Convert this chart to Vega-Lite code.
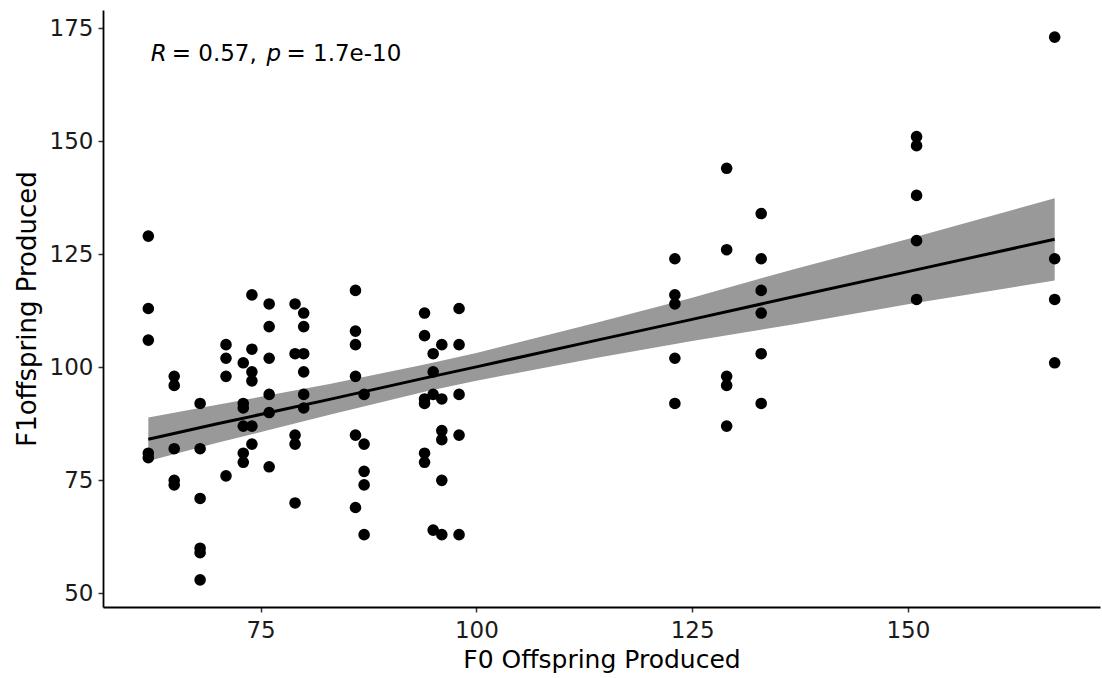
{
  "$schema": "https://vega.github.io/schema/vega-lite/v6.json",
  "width": 997,
  "height": 597,
  "autosize": {"type": "none"},
  "padding": {"left": 103, "top": 10, "right": 2, "bottom": 71},
  "background": "white",
  "config": {
    "view": {"stroke": null},
    "font": "DejaVu Sans",
    "axis": {
      "grid": false,
      "domainColor": "#000000",
      "domainWidth": 1.8,
      "tickColor": "#333333",
      "tickWidth": 1.5,
      "tickSize": 5,
      "labelFont": "DejaVu Sans",
      "labelFontSize": 23,
      "labelColor": "#1a1a1a",
      "titleFont": "DejaVu Sans",
      "titleFontSize": 25,
      "titleFontWeight": "normal",
      "titleColor": "#000000"
    }
  },
  "datasets": {
    "points": [
      {"f0": 62, "f1": 129}, {"f0": 62, "f1": 113}, {"f0": 62, "f1": 106}, {"f0": 62, "f1": 81}, {"f0": 62, "f1": 80},
      {"f0": 65, "f1": 98}, {"f0": 65, "f1": 96}, {"f0": 65, "f1": 82}, {"f0": 65, "f1": 75}, {"f0": 65, "f1": 74},
      {"f0": 68, "f1": 92}, {"f0": 68, "f1": 82}, {"f0": 68, "f1": 71}, {"f0": 68, "f1": 60}, {"f0": 68, "f1": 59}, {"f0": 68, "f1": 53},
      {"f0": 71, "f1": 105}, {"f0": 71, "f1": 102}, {"f0": 71, "f1": 98}, {"f0": 71, "f1": 76},
      {"f0": 73, "f1": 101}, {"f0": 73, "f1": 92}, {"f0": 73, "f1": 91}, {"f0": 73, "f1": 87}, {"f0": 73, "f1": 81}, {"f0": 73, "f1": 79},
      {"f0": 74, "f1": 116}, {"f0": 74, "f1": 104}, {"f0": 74, "f1": 99}, {"f0": 74, "f1": 97}, {"f0": 74, "f1": 87}, {"f0": 74, "f1": 83},
      {"f0": 76, "f1": 114}, {"f0": 76, "f1": 109}, {"f0": 76, "f1": 102}, {"f0": 76, "f1": 94}, {"f0": 76, "f1": 90}, {"f0": 76, "f1": 78},
      {"f0": 79, "f1": 114}, {"f0": 79, "f1": 103}, {"f0": 79, "f1": 85}, {"f0": 79, "f1": 83}, {"f0": 79, "f1": 70},
      {"f0": 80, "f1": 112}, {"f0": 80, "f1": 109}, {"f0": 80, "f1": 103}, {"f0": 80, "f1": 99}, {"f0": 80, "f1": 94}, {"f0": 80, "f1": 91},
      {"f0": 86, "f1": 117}, {"f0": 86, "f1": 108}, {"f0": 86, "f1": 105}, {"f0": 86, "f1": 98}, {"f0": 86, "f1": 85}, {"f0": 86, "f1": 69},
      {"f0": 87, "f1": 94}, {"f0": 87, "f1": 83}, {"f0": 87, "f1": 77}, {"f0": 87, "f1": 74}, {"f0": 87, "f1": 63},
      {"f0": 94, "f1": 112}, {"f0": 94, "f1": 107}, {"f0": 94, "f1": 93}, {"f0": 94, "f1": 92}, {"f0": 94, "f1": 81}, {"f0": 94, "f1": 79},
      {"f0": 95, "f1": 103}, {"f0": 95, "f1": 99}, {"f0": 95, "f1": 94}, {"f0": 95, "f1": 64},
      {"f0": 96, "f1": 105}, {"f0": 96, "f1": 93}, {"f0": 96, "f1": 86}, {"f0": 96, "f1": 84}, {"f0": 96, "f1": 75}, {"f0": 96, "f1": 63},
      {"f0": 98, "f1": 113}, {"f0": 98, "f1": 105}, {"f0": 98, "f1": 94}, {"f0": 98, "f1": 85}, {"f0": 98, "f1": 63},
      {"f0": 123, "f1": 124}, {"f0": 123, "f1": 116}, {"f0": 123, "f1": 114}, {"f0": 123, "f1": 102}, {"f0": 123, "f1": 92},
      {"f0": 129, "f1": 144}, {"f0": 129, "f1": 126}, {"f0": 129, "f1": 98}, {"f0": 129, "f1": 96}, {"f0": 129, "f1": 87},
      {"f0": 133, "f1": 134}, {"f0": 133, "f1": 124}, {"f0": 133, "f1": 117}, {"f0": 133, "f1": 112}, {"f0": 133, "f1": 103}, {"f0": 133, "f1": 92},
      {"f0": 151, "f1": 151}, {"f0": 151, "f1": 149}, {"f0": 151, "f1": 138}, {"f0": 151, "f1": 128}, {"f0": 151, "f1": 115},
      {"f0": 167, "f1": 173}, {"f0": 167, "f1": 124}, {"f0": 167, "f1": 115}, {"f0": 167, "f1": 101}
    ],
    "fit": [
      {"f0": 62, "fit": 84.1, "lo": 79.3, "hi": 88.9},
      {"f0": 70, "fit": 87.5, "lo": 83.3, "hi": 91.7},
      {"f0": 83, "fit": 92.9, "lo": 89.5, "hi": 96.3},
      {"f0": 94, "fit": 97.6, "lo": 94.6, "hi": 100.6},
      {"f0": 100, "fit": 100.1, "lo": 97.05, "hi": 103.15},
      {"f0": 114, "fit": 106.0, "lo": 102.1, "hi": 109.9},
      {"f0": 125, "fit": 110.6, "lo": 105.8, "hi": 115.4},
      {"f0": 137, "fit": 115.7, "lo": 109.6, "hi": 121.8},
      {"f0": 150, "fit": 121.15, "lo": 113.95, "hi": 128.35},
      {"f0": 167, "fit": 128.3, "lo": 119.2, "hi": 137.4}
    ],
    "labels": [
      {"f0": 62.28, "f1": 167.7, "piece": "R", "kind": "italic"},
      {"f0": 64.71, "f1": 167.7, "piece": "= 0.57,", "kind": "normal"},
      {"f0": 75.69, "f1": 167.7, "piece": "p", "kind": "italic"},
      {"f0": 78.0, "f1": 167.7, "piece": "= 1.7e-10", "kind": "normal"}
    ]
  },
  "encoding": {
    "x": {
      "field": "f0", "type": "quantitative",
      "scale": {"domain": [56.75, 172.25], "nice": false, "zero": false},
      "axis": {"values": [75, 100, 125, 150], "title": "F0 Offspring Produced", "labelPadding": 7, "titlePadding": 5}
    }
  },
  "layer": [
    {
      "data": {"name": "fit"},
      "mark": {"type": "area", "color": "#999999", "opacity": 1},
      "encoding": {
        "y": {"field": "lo", "type": "quantitative", "scale": {"domain": [47, 179], "nice": false, "zero": false}},
        "y2": {"field": "hi"}
      }
    },
    {
      "data": {"name": "fit"},
      "mark": {"type": "line", "color": "#000000", "strokeWidth": 3},
      "encoding": {
        "y": {"field": "fit", "type": "quantitative"}
      }
    },
    {
      "data": {"name": "points"},
      "mark": {"type": "circle", "color": "#000000", "size": 135, "opacity": 1},
      "encoding": {
        "y": {
          "field": "f1", "type": "quantitative",
          "axis": {"values": [50, 75, 100, 125, 150, 175], "title": "F1offspring Produced", "titleFontSize": 26, "labelPadding": 5, "titlePadding": 9}
        }
      }
    },
    {
      "data": {"name": "labels"},
      "transform": [{"filter": "datum.kind === 'italic'"}],
      "mark": {"type": "text", "align": "left", "baseline": "alphabetic", "fontSize": 23, "fontStyle": "italic", "font": "DejaVu Sans", "color": "#000000"},
      "encoding": {
        "y": {"field": "f1", "type": "quantitative"},
        "text": {"field": "piece"}
      }
    },
    {
      "data": {"name": "labels"},
      "transform": [{"filter": "datum.kind === 'normal'"}],
      "mark": {"type": "text", "align": "left", "baseline": "alphabetic", "fontSize": 23, "font": "DejaVu Sans", "color": "#000000"},
      "encoding": {
        "y": {"field": "f1", "type": "quantitative"},
        "text": {"field": "piece"}
      }
    }
  ]
}
